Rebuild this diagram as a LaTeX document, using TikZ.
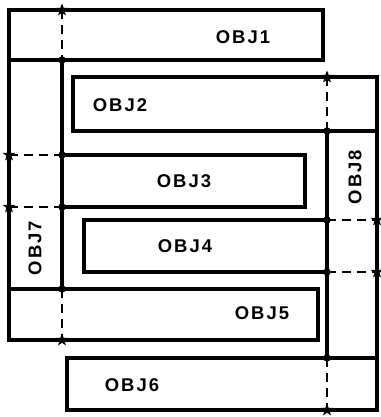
\documentclass[tikz,border=0pt]{standalone}
\usepackage{fontspec}
\usepackage{tikz}
\usetikzlibrary{shapes.geometric}
\newfontfamily\objfont{Liberation Sans}[LetterSpace=11]

\begin{document}
\begin{tikzpicture}[x=0.02cm,y=-0.02cm,
    wall/.style={line width=2.1pt,line join=miter},
    spine/.style={line width=2.8pt},
    link/.style={line width=1.5pt,dash pattern=on 5pt off 3.5pt},
    joint/.style={circle,fill,inner sep=0pt,minimum size=4.2pt},
    endmark/.style={star,star points=5,star point ratio=2.4,fill,inner sep=0pt,minimum size=7.5pt},
    tag/.style={font=\objfont\bfseries\fontsize{10.5}{12}\selectfont,inner sep=0pt}
  ]
  \useasboundingbox (0,0) rectangle (380,417);
  % object outlines
  \draw[wall] (9,10) rectangle (323,60);
  \draw[wall] (73,77) rectangle (377,131);
  \draw[wall] (62,155) rectangle (305,207);
  \draw[wall] (84,220) rectangle (327,272);
  \draw[wall] (9,289) rectangle (318,340);
  \draw[wall] (67,358) rectangle (377,410);
  \draw[wall] (9,60) -- (9,289);
  \draw[wall] (377,131) -- (377,358);
  % the two solid spines
  \draw[spine] (62,60) -- (62,289);
  \draw[spine] (327,131) -- (327,358);
  % joints and free ends
  \node[joint] (j1) at (62,60) {};
  \node[joint] (j2) at (62,155) {};
  \node[joint] (j3) at (62,207) {};
  \node[joint] (j4) at (62,289) {};
  \node[joint] (j5) at (327,131) {};
  \node[joint] (j6) at (327,220) {};
  \node[joint] (j7) at (327,272) {};
  \node[joint] (j8) at (327,358) {};
  \node[endmark] (e1) at (62,10) {};
  \node[endmark] (e2) at (9,155) {};
  \node[endmark] (e3) at (9,207) {};
  \node[endmark] (e4) at (62,340) {};
  \node[endmark] (e5) at (327,77) {};
  \node[endmark] (e6) at (377,220) {};
  \node[endmark] (e7) at (377,272) {};
  \node[endmark] (e8) at (327,410) {};
  \draw[link] (e1.center) -- (j1.center);
  \draw[link] (e2.center) -- (j2.center);
  \draw[link] (e3.center) -- (j3.center);
  \draw[link] (j4.center) -- (e4.center);
  \draw[link] (e5.center) -- (j5.center);
  \draw[link] (j6.center) -- (e6.center);
  \draw[link] (j7.center) -- (e7.center);
  \draw[link] (j8.center) -- (e8.center);
  % labels
  \node[tag] (obj1) at (243,37) {OBJ1};
  \node[tag] (obj2) at (120,105) {OBJ2};
  \node[tag] (obj3) at (184,181) {OBJ3};
  \node[tag] (obj4) at (185,246) {OBJ4};
  \node[tag] (obj5) at (262,313) {OBJ5};
  \node[tag] (obj6) at (132,385) {OBJ6};
  \node[tag,rotate=90] (obj7) at (35,248) {OBJ7};
  \node[tag,rotate=90] (obj8) at (355,177) {OBJ8};
\end{tikzpicture}
\end{document}
